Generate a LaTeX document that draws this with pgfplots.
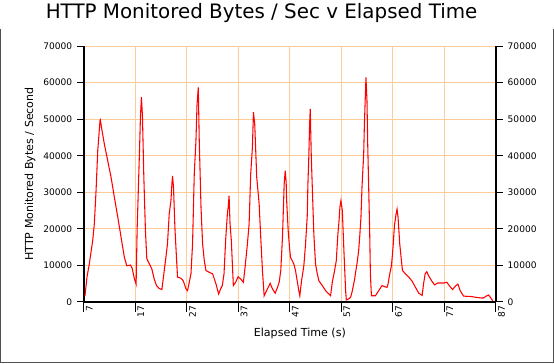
\documentclass[border=0pt]{standalone}
\usepackage{fontspec}
\setmainfont{DejaVu Sans}
\usepackage{pgfplots}
\usepackage{pgfplotstable}
\pgfplotsset{compat=1.18}
\definecolor{gridc}{RGB}{255,204,153}
\definecolor{framec}{RGB}{80,80,80}
\pgfplotstableread{
t v
7.19 1700
7.58 6800
8.03 10400
8.69 16800
9.00 21300
9.34 30400
9.67 41400
10.11 49600
10.17 49800
10.45 47300
10.95 43200
11.61 38600
12.26 34100
12.90 28600
13.56 23200
14.20 17700
14.84 12200
15.31 9900
16.01 10100
16.34 9300
16.79 6300
17.12 4900
17.32 20000
17.76 40500
17.96 50600
18.15 56000
18.35 50900
18.62 34100
18.93 19500
19.20 11800
19.71 10400
20.18 9000
20.63 6300
21.07 4500
21.60 3700
22.12 3400
22.38 6300
22.90 12200
23.21 15900
23.55 24100
23.88 27700
24.07 32300
24.19 34500
24.38 31400
24.65 20400
24.85 15000
25.16 6800
25.82 6500
26.27 5800
26.80 3600
27.11 3100
27.44 5400
27.77 7700
28.08 15900
28.41 35000
28.74 44100
28.94 53700
29.19 58700
29.38 44100
29.72 25900
30.03 15900
30.36 11300
30.69 8600
31.33 8100
31.97 7700
32.64 4900
33.14 2200
33.53 3600
33.86 4500
34.19 7700
34.50 16800
34.84 24100
35.03 26300
35.17 29100
35.36 21300
35.61 16800
35.81 10400
36.00 4500
36.45 5400
36.92 6900
37.42 6300
37.95 5400
38.28 9500
38.73 15900
39.06 21300
39.37 35000
39.70 42300
39.90 51900
40.15 48700
40.54 34100
41.01 26800
41.32 17700
41.65 8600
41.98 1700
42.62 3600
43.15 5100
43.59 3600
44.12 2400
44.57 4000
44.90 5400
45.21 8600
45.54 17700
45.87 32300
46.07 35900
46.26 32700
46.32 28600
46.65 19500
46.90 15000
47.10 12200
47.43 11300
47.74 10400
48.07 8600
48.40 5800
48.71 3100
48.91 1700
49.24 5800
49.69 9900
50.02 15900
50.35 23600
50.47 31800
50.66 40000
50.80 48200
50.93 52800
51.13 40000
51.32 31800
51.63 18600
51.96 10400
52.30 7700
52.61 5800
53.27 4500
53.91 3100
54.55 2200
54.88 1700
55.21 5400
55.66 8600
55.99 11300
56.30 18600
56.50 21800
56.69 25900
56.89 27700
57.16 25000
57.47 14000
57.80 3100
57.94 550
58.33 800
58.78 1300
59.11 3100
59.56 6300
59.69 7700
60.00 10400
60.33 14000
60.53 17700
60.78 23200
60.98 31400
61.31 40500
61.44 48200
61.64 56900
61.75 61400
61.95 55000
62.09 43200
62.28 31400
62.47 19500
62.61 7700
62.81 1700
63.58 1700
64.23 3100
64.87 4500
65.34 4200
65.84 4000
66.04 4900
66.37 7700
66.70 9900
67.01 15000
67.28 20900
67.60 24100
67.79 25400
67.98 23200
68.31 15900
68.57 12200
68.84 8600
69.42 7700
70.07 6800
70.71 5700
71.37 4000
72.01 2400
72.66 1800
72.93 4900
73.24 7700
73.57 8300
73.90 7200
74.54 5700
75.07 4700
75.71 5200
76.82 5200
77.46 5400
77.91 4500
78.57 3400
79.08 4300
79.60 4900
80.05 3100
80.71 1600
82.19 1500
82.97 1300
84.14 1100
84.61 1100
85.06 1600
85.58 1900
85.89 1300
86.36 350
}\datatable
\begin{document}
\begin{tikzpicture}
\path[use as bounding box] (-63pt,-46.5pt) rectangle (352.5pt,226.5pt);
\pgfplotsset{
  every axis/.append style={
    at={(0,0)}, anchor=south west,
    scale only axis, width=309pt, height=192pt,
    xmin=7, xmax=87, ymin=0, ymax=70000,
    xtick={7,17,...,87}, ytick={0,10000,...,70000},
    scaled y ticks=false,
    tick align=outside,
    tick style={black, line width=0.75pt},
    axis line style={black, line width=0.9pt},
    ticklabel style={font=\fontsize{6.8pt}{8pt}\selectfont},
    /pgf/number format/.cd, 1000 sep={}, assume math mode=true,
  },
}
\begin{axis}[
  name=main,
  axis x line*=bottom, axis y line*=left,
  grid=major,
  major grid style={color=gridc, line width=0.75pt},
  xtick style={/pgfplots/major tick length=7.5pt},
  ytick style={/pgfplots/major tick length=5pt},
  xticklabel style={rotate=90, anchor=north east, xshift=5pt, yshift=2pt},
  yticklabel style={xshift=-1pt},
  xlabel={Elapsed Time (s)},
  ylabel={HTTP Monitored Bytes / Second},
  every axis x label/.style={at={(axis description cs:0.524,-0.121)}, anchor=center, font=\fontsize{8.3pt}{10pt}\selectfont},
  every axis y label/.style={at={(axis description cs:-0.131,0.5)}, rotate=90, anchor=center, font=\fontsize{8.3pt}{10pt}\selectfont},
  title={HTTP Monitored Bytes / Sec v Elapsed Time},
  every axis title/.style={at={(axis description cs:0.431,1.128)}, anchor=center, font=\fontsize{14.9pt}{17pt}\selectfont},
]
\addplot[red, line width=0.8pt] table[x=t, y=v] {\datatable};
\end{axis}
\begin{axis}[
  axis x line=none, axis y line*=right,
  ytick style={/pgfplots/major tick length=5pt},
  yticklabel style={xshift=1pt},
]
\addplot[draw=none] coordinates {(7,0)};
\end{axis}
\draw[framec, line width=0.75pt]
  (-62.6pt,204.75pt) -- (-62.6pt,-45.4pt) -- (352.1pt,-45.4pt) -- (352.1pt,204.75pt);
\end{tikzpicture}
\end{document}
